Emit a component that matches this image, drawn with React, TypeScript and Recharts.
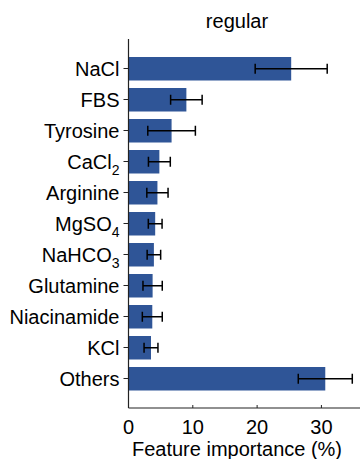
import { BarChart, Bar, XAxis, YAxis, ErrorBar } from 'recharts'

const categories = ['NaCl', 'FBS', 'Tyrosine', 'CaCl2', 'Arginine', 'MgSO4', 'NaHCO3', 'Glutamine', 'Niacinamide', 'KCl', 'Others']
const importance = [25.3, 9.0, 6.7, 4.8, 4.5, 4.15, 3.95, 3.75, 3.7, 3.5, 30.6]
const errors = [5.6, 2.45, 3.7, 1.7, 1.65, 1.07, 1.05, 1.5, 1.55, 1.08, 4.2]
const xTicks = [0, 10, 20, 30]

// chemical formulas: trailing digits are drawn as subscripts
const subscripts: Record<string, [string, string]> = {
  CaCl2: ['CaCl', '2'],
  MgSO4: ['MgSO', '4'],
  NaHCO3: ['NaHCO', '3'],
}

const data = categories.map((name, i) => ({ name, value: importance[i], err: errors[i] }))

const FONT = '"Liberation Sans", Arial, sans-serif'
const BAR = '#2f5597'

function CategoryTick({ x, y, payload }: any) {
  const sub = subscripts[payload.value]
  return (
    <text x={x} y={y} dy={7} textAnchor="end" fontSize={20} fill="#000" fontFamily={FONT}>
      {sub ? (
        <>
          <tspan>{sub[0]}</tspan>
          <tspan fontSize={14} dy={6}>{sub[1]}</tspan>
        </>
      ) : (
        payload.value
      )}
    </text>
  )
}

export default function App() {
  return (
    <div style={{ position: 'absolute', left: 0, top: 0, width: 361, height: 459, background: '#fff', fontFamily: FONT }}>
      <div style={{ position: 'absolute', left: 0, width: 474, top: 10, textAlign: 'center', fontSize: 20 }}>regular</div>
      <BarChart
        width={361}
        height={459}
        data={data}
        layout="vertical"
        margin={{ top: 39, right: 1, bottom: 0, left: 0 }}
      >
        <XAxis
          xAxisId="top"
          orientation="top"
          type="number"
          domain={[0, 36]}
          height={0}
          tick={false}
          tickLine={false}
          axisLine={{ stroke: '#222', strokeWidth: 1.2 }}
        />
        {/* bottom axis: short ticks pointing into the plot */}
        <XAxis
          type="number"
          domain={[0, 36]}
          ticks={xTicks}
          height={51}
          tickSize={-3}
          tickMargin={14.5}
          tick={{ fontSize: 20, fill: '#000', fontFamily: FONT }}
          tickLine={{ stroke: '#222' }}
          axisLine={{ stroke: '#222', strokeWidth: 1.2 }}
        />
        <YAxis
          type="category"
          dataKey="name"
          width={128.5}
          padding={{ top: 14, bottom: 14 }}
          tickSize={5}
          tickMargin={4}
          interval={0}
          tick={<CategoryTick />}
          tickLine={{ stroke: '#222' }}
          axisLine={{ stroke: '#222', strokeWidth: 1.2 }}
        />
        <Bar dataKey="value" fill={BAR} barSize={23.5} isAnimationActive={false}>
          <ErrorBar dataKey="err" direction="x" width={5} stroke="#000" strokeWidth={1.5} />
        </Bar>
      </BarChart>
      <div style={{ position: 'absolute', left: 0, width: 474, top: 438, textAlign: 'center', fontSize: 20 }}>
        Feature importance (%)
      </div>
    </div>
  )
}
